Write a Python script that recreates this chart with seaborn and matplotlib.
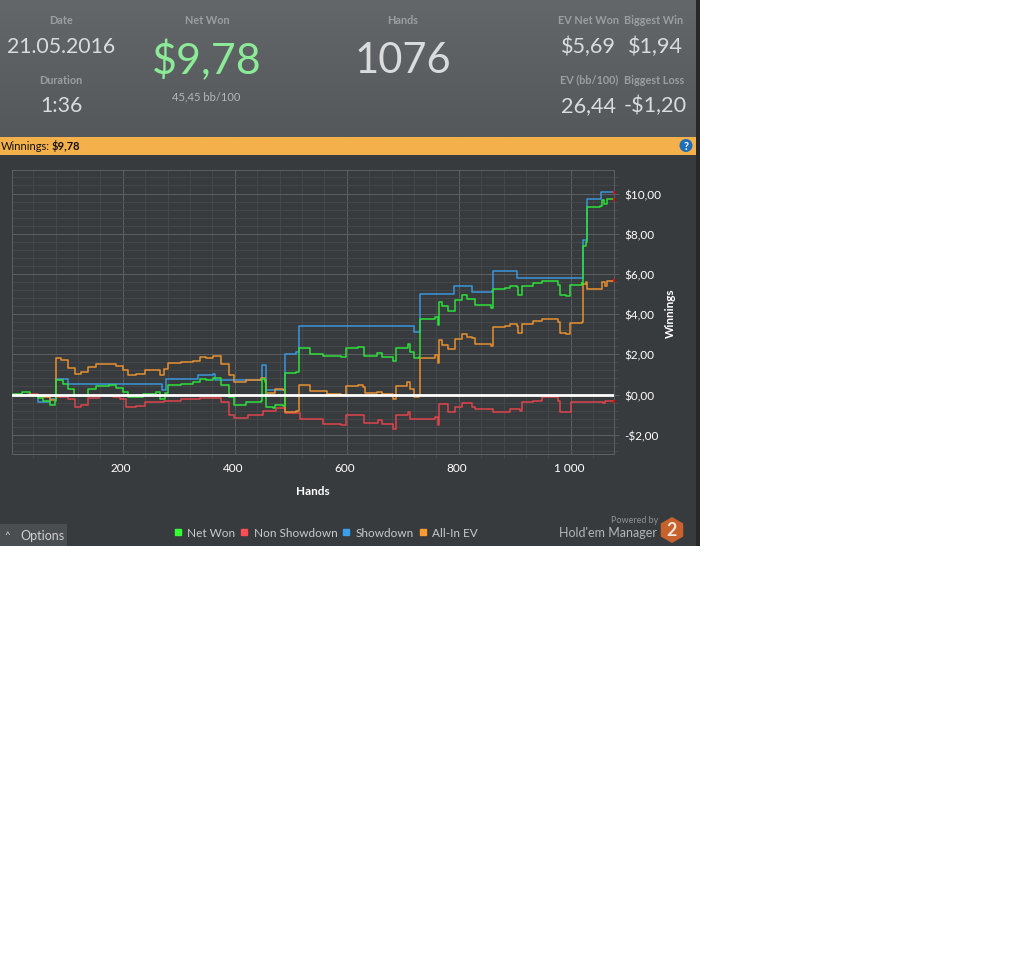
import numpy as np
import pandas as pd
import seaborn as sns
import matplotlib.pyplot as plt
from matplotlib.colors import LinearSegmentedColormap
from matplotlib.lines import Line2D
from matplotlib.patches import Circle, Rectangle, RegularPolygon
from matplotlib.transforms import ScaledTranslation

net_hands = [4, 20, 35, 48, 58, 69, 78, 81, 93, 102, 112, 126, 137, 152, 176, 188, 200, 209, 236, 260, 267, 276, 280, 304, 325, 337, 349, 361, 376, 390, 399, 420, 447, 448, 453, 456, 468, 471, 486, 489, 510, 515, 534, 558, 590, 598, 620, 630, 653, 662, 683, 687, 709, 712, 720, 729, 730, 757, 762, 764, 769, 781, 793, 805, 814, 823, 829, 857, 861, 882, 891, 903, 906, 912, 933, 948, 977, 980, 992, 998, 1019, 1020, 1022, 1027, 1029, 1052, 1055, 1059, 1064, 1077]
net_won = [0.05, 0.1, 0.0, -0.15, -0.3, -0.5, -0.3, 0.7, 0.53, 0.28, -0.08, -0.05, 0.25, 0.4, 0.45, 0.32, 0.12, -0.13, 0.03, 0.12, -0.2, 0.08, 0.48, 0.53, 0.61, 0.78, 0.7, 0.81, 0.45, -0.13, -0.5, -0.38, -0.3, 0.78, 0.62, -0.63, -0.68, -0.5, -0.55, 1.06, 1.14, 2.3, 2.02, 1.9, 1.86, 2.32, 2.35, 1.9, 2.05, 1.86, 1.69, 2.3, 2.52, 2.1, 1.82, 1.85, 3.76, 3.85, 3.48, 4.59, 4.38, 4.13, 4.68, 4.93, 4.76, 4.73, 4.46, 4.31, 5.26, 5.31, 5.39, 5.34, 4.96, 5.42, 5.56, 5.64, 5.47, 4.93, 4.88, 5.46, 5.56, 5.5, 7.41, 7.6, 9.33, 9.36, 9.68, 9.48, 9.73, 9.73]

non_hands = [4, 30, 48, 81, 102, 114, 126, 137, 158, 182, 194, 205, 224, 239, 260, 274, 304, 337, 361, 376, 390, 399, 423, 443, 450, 474, 489, 516, 558, 590, 598, 623, 630, 656, 662, 683, 687, 709, 712, 739, 757, 763, 764, 781, 793, 806, 823, 829, 861, 879, 891, 909, 913, 933, 948, 977, 980, 992, 1001, 1028, 1058, 1061, 1077]
non_showdown = [0.0, 0.02, -0.05, -0.13, -0.22, -0.6, -0.5, -0.18, -0.08, -0.1, -0.22, -0.63, -0.58, -0.38, -0.35, -0.3, -0.22, -0.18, -0.18, -0.38, -1.04, -1.18, -1.04, -1.04, -0.83, -0.68, -0.91, -1.21, -1.46, -1.51, -1.04, -1.01, -1.41, -1.29, -1.49, -1.71, -1.04, -0.88, -1.21, -1.24, -1.13, -1.51, -0.46, -0.85, -0.63, -0.43, -0.63, -0.71, -0.88, -0.88, -0.71, -0.8, -0.35, -0.3, -0.13, -0.3, -0.88, -0.85, -0.35, -0.38, -0.41, -0.3, -0.33]

show_hands = [4, 48, 69, 81, 102, 269, 277, 335, 361, 365, 393, 448, 456, 489, 510, 514, 720, 730, 792, 824, 860, 861, 903, 1021, 1022, 1029, 1054, 1077]
showdown = [0.0, -0.38, -0.2, 0.75, 0.51, 0.2, 0.78, 0.95, 1.0, 0.73, 0.7, 1.49, 0.2, 2.0, 2.1, 3.4, 3.1, 5.0, 5.39, 5.09, 5.14, 6.14, 5.79, 7.66, 7.7, 9.73, 10.07, 10.07]

ev_hands = [4, 48, 69, 80, 81, 90, 102, 114, 126, 137, 152, 176, 188, 200, 209, 224, 239, 260, 267, 274, 280, 304, 325, 337, 349, 361, 376, 390, 399, 420, 447, 453, 456, 468, 471, 486, 489, 510, 515, 534, 564, 590, 598, 620, 629, 632, 653, 662, 683, 687, 707, 712, 720, 729, 730, 757, 762, 764, 769, 781, 793, 805, 814, 823, 829, 857, 861, 882, 891, 903, 906, 912, 933, 948, 977, 980, 992, 998, 1019, 1021, 1027, 1029, 1052, 1055, 1061, 1065, 1077]
all_in_ev = [0.0, -0.1, -0.25, 0.0, 1.8, 1.7, 1.3, 1.03, 1.1, 1.35, 1.5, 1.52, 1.4, 1.2, 0.98, 1.03, 1.22, 1.2, 0.95, 1.28, 1.58, 1.64, 1.66, 1.89, 1.8, 1.9, 1.52, 0.95, 0.61, 0.7, 0.8, 0.7, 0.08, 0.08, 0.25, 0.2, -0.88, -0.8, 0.45, 0.15, 0.03, -0.02, 0.41, 0.48, 0.36, 0.08, 0.12, 0.03, -0.22, 0.41, 0.61, 0.28, -0.1, -0.05, 1.84, 1.97, 1.58, 2.69, 2.47, 2.27, 2.77, 3.02, 2.85, 2.82, 2.52, 2.4, 3.37, 3.4, 3.5, 3.43, 3.07, 3.52, 3.65, 3.75, 3.6, 3.07, 2.99, 3.57, 3.6, 5.5, 5.59, 5.26, 5.26, 5.59, 5.42, 5.67, 5.7]

series_names = ["Net Won", "Non Showdown", "Showdown", "All-In EV"]
series_colors = {"Net Won": "#2BE03A", "Non Showdown": "#E0444C", "Showdown": "#3A96DC", "All-In EV": "#E89030"}
legend_colors = ["#33FF33", "#FF4C55", "#3AA0EE", "#FF9A30"]

x_ticks = [200, 400, 600, 800, 1000]
x_labels = ["200", "400", "600", "800", "1 000"]
y_ticks = [-2, 0, 2, 4, 6, 8, 10]
y_labels = ["-$2,00", "$0,00", "$2,00", "$4,00", "$6,00", "$8,00", "$10,00"]

W, H = 1027, 962
PANEL = "#383B3E"
GRID_MAJOR = "#5C5F62"
GRID_MINOR = "#44474A"

sns.set_theme(style="dark")
plt.rcParams["font.family"] = ["Lato", "DejaVu Sans"]

fig = plt.figure(figsize=(W / 100, H / 100), dpi=100, facecolor="white")

# background layer in pixel coordinates, for the app chrome around the chart
bg = fig.add_axes([0, 0, 1, 1])
bg.set_axis_off()
gradient = np.linspace(0, 1, 137).reshape(-1, 1)
header_cmap = LinearSegmentedColormap.from_list("hdr", ["#646769", "#55585B"])
bg.imshow(gradient, extent=(0, 696, 137, 0), aspect="auto", cmap=header_cmap, zorder=1)
bg.add_patch(Rectangle((0, 137), 696, 409, color=PANEL, lw=0, zorder=1))
bg.add_patch(Rectangle((696, 0), 4, 546, color="#26282A", lw=0, zorder=1))
bg.add_patch(Rectangle((0, 137), 696, 18, color="#F4B04A", lw=0, zorder=2))
bg.add_patch(Rectangle((0, 524), 67, 22, color="#4B4E51", lw=0, zorder=2))
bg.add_patch(Circle((686, 145.5), 6.5, color="#1E6FB8", lw=0, zorder=3))
bg.add_patch(RegularPolygon((672, 530), 6, radius=13, color="#C8622C", lw=0, zorder=3))
bg.set_xlim(0, W)
bg.set_ylim(H - 1, -1)


def put(x, y, s, size, color, weight="normal", ha="center"):
    bg.text(x, y, s, fontsize=size, color=color, fontweight=weight, ha=ha, va="center", zorder=5)


LABEL = "#9C9EA0"
VALUE = "#DADBDC"
put(61, 20, "Date", 7.8, LABEL, "bold")
put(61, 46, "21.05.2016", 15.3, VALUE)
put(61, 79, "Duration", 7.8, LABEL, "bold")
put(61, 105, "1:36", 15.3, VALUE)
put(207, 20, "Net Won", 7.8, LABEL, "bold")
put(207, 60, "$9,78", 31, "#8CEB96")
put(206, 96, "45,45 bb/100", 8, "#B4B6B8")
put(403, 20, "Hands", 7.8, LABEL, "bold")
put(403, 60, "1076", 30, VALUE)
put(588, 20, "EV Net Won", 7.8, LABEL, "bold")
put(654, 20, "Biggest Win", 7.8, LABEL, "bold")
put(588, 46, "$5,69", 15.6, VALUE)
put(655, 46, "$1,94", 15.6, VALUE)
put(589, 79, "EV (bb/100)", 7.8, LABEL, "bold")
put(654, 79, "Biggest Loss", 7.8, LABEL, "bold")
put(588, 105, "26,44", 15.6, VALUE)
put(655, 105, "-$1,20", 15.6, VALUE)
put(1, 145.5, "Winnings:", 8, "#111111", ha="left")
put(52, 145.5, "$9,78", 8, "#111111", "bold", ha="left")
put(686, 145.5, "?", 8, "white", "bold")
put(7, 535, "^", 7, "#D8D8D8")
put(42, 535, "Options", 9, "#D0D0D0")
put(635, 520, "Powered by", 6.5, "#909294")
put(608, 532, "Hold'em Manager", 9, "#B4B6B8")
put(672, 530, "2", 13, "#F0E4DC", "bold")

ax = fig.add_axes([12 / W, 1 - 455 / H, (614 - 12) / W, (455 - 171) / H], facecolor=PANEL)

frames = {
    "Net Won": (net_hands, net_won),
    "Non Showdown": (non_hands, non_showdown),
    "Showdown": (show_hands, showdown),
    "All-In EV": (ev_hands, all_in_ev),
}
draw_order = ["Showdown", "Non Showdown", "All-In EV", "Net Won"]
for z, name in enumerate(draw_order):
    hands, values = frames[name]
    df = pd.DataFrame({"hand": hands, "value": values})
    sns.lineplot(
        data=df, x="hand", y="value", ax=ax, color=series_colors[name], linewidth=1.1,
        estimator=None, sort=False, legend=False, zorder=3 + z * 0.1,
        drawstyle="steps-post",
    )
    ax.plot(hands[-1], values[-1], marker="s", ms=1.2, color="red", zorder=4)

ax.axhline(0, color="white", lw=2, zorder=5)

ax.set_xlim(2, 1077)
ax.set_ylim(-2.96, 11.17)
ax.set_xticks(x_ticks)
ax.set_xticklabels(x_labels)
ax.set_xticks(np.arange(40, 1077, 40), minor=True)
ax.set_yticks(y_ticks)
ax.set_yticklabels(y_labels)
ax.set_yticks(np.arange(-2.8, 11.2, 0.4), minor=True)
ax.yaxis.tick_right()
ax.yaxis.set_label_position("right")
ax.grid(True, which="major", color=GRID_MAJOR, lw=0.72)
ax.grid(True, which="minor", color=GRID_MINOR, lw=0.72)
ax.set_axisbelow(True)
ax.tick_params(which="major", length=3.6, width=0.72, color=GRID_MAJOR, labelcolor="white", labelsize=8.5)
ax.tick_params(which="minor", length=3, width=0.72, color=GRID_MINOR, bottom=True, right=True, left=False, top=False)
ax.tick_params(axis="x", which="major", bottom=False, pad=2)
ax.tick_params(axis="y", which="major", left=False, right=True, pad=3.6)
# the x labels sit a little left of their gridlines in the app
nudge = ScaledTranslation(-2 / 100, 0, fig.dpi_scale_trans)
for label in ax.get_xticklabels():
    label.set_transform(label.get_transform() + nudge)
for spine in ax.spines.values():
    spine.set_color(GRID_MAJOR)
    spine.set_linewidth(0.72)
ax.set_xlabel("Hands", color="white", fontweight="bold", fontsize=8.5, labelpad=9)
ax.set_ylabel("Winnings", color="white", fontweight="bold", fontsize=8.5, labelpad=3)

handles = [Line2D([], [], ls="", marker="s", ms=4, color=c) for c in legend_colors]
fig.legend(
    handles, series_names, loc="center", bbox_to_anchor=(326 / W, 1 - 534 / H), ncol=4, frameon=False,
    fontsize=8.5, labelcolor="#C8CACC", handlelength=0.6, handletextpad=0.5, columnspacing=0.45, borderpad=0,
)

fig.savefig("out.png", dpi=100, facecolor="white")
